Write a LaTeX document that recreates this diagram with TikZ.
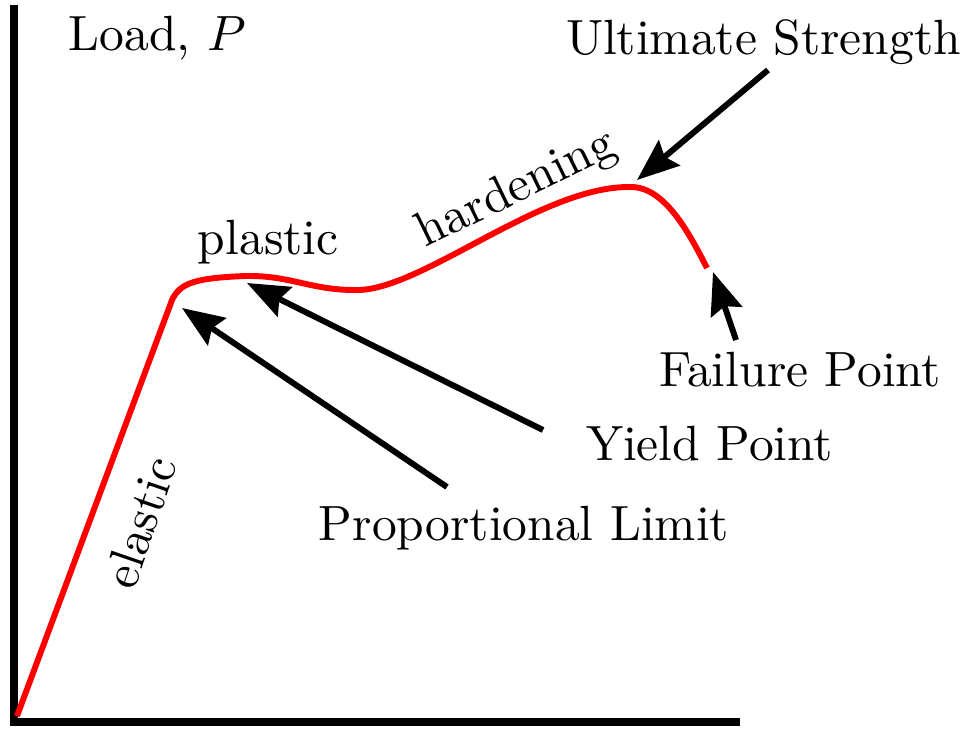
\documentclass[tikz,border=0pt]{standalone}
\usetikzlibrary{arrows.meta}
\begin{document}
\begin{tikzpicture}[x=0.202pt,y=-0.202pt,
  axis/.style={line width=1.8pt,line cap=rect},
  curve/.style={red,line width=1.2pt},
  pointer/.style={line width=1.2pt,-{Stealth[length=8.5pt,width=6.6pt,inset=1.2pt]}},
  lbl/.style={inner sep=0pt,font=\fontsize{10}{12}\selectfont},
  every node/.style={lbl}]
\useasboundingbox (0,0) rectangle (968,731);
% axes
\coordinate (ytop) at (14,9);
\coordinate (orig) at (14,722);
\coordinate (xend) at (736,722);
\draw[axis] (ytop) -- (orig) -- (xend);
% curve
\coordinate (c0) at (17,716);
\coordinate (c1) at (172,300);
\coordinate (c2) at (245,276);
\coordinate (c3) at (355,290);
\coordinate (c4) at (630,187);
\coordinate (c5) at (707,268);
\draw[curve] (c0) -- (c1)
  .. controls (180,283) and (195,278) .. (c2)
  .. controls (290,275) and (310,290) .. (c3)
  .. controls (420,292) and (540,186) .. (c4)
  .. controls (665,186) and (690,235) .. (c5);
% labels
\node[anchor=base west] (load) at (68,50) {Load, $P$};
\node[anchor=base west] (ult) at (565,54) {Ultimate Strength};
\node[anchor=base west] (plastic) at (197,254) {plastic};
\node[anchor=base west] (fail) at (658,386) {Failure Point};
\node[anchor=base west] (yield) at (585,460) {Yield Point};
\node[anchor=base west] (prop) at (318,540) {Proportional Limit};
\node[rotate=26] (hard) at (517,190) {hardening};
\node[rotate=71] (elastic) at (140,522) {elastic};
% arrows
\coordinate (pTail) at (447,487);
\coordinate (pTip) at (182,308);
\coordinate (yTail) at (543,430);
\coordinate (yTip) at (247,283);
\coordinate (uTail) at (768,70);
\coordinate (uTip) at (637,180);
\coordinate (fTail) at (736,340);
\coordinate (fTip) at (713,272);
\draw[pointer] (pTail) -- (pTip);
\draw[pointer] (yTail) -- (yTip);
\draw[pointer] (uTail) -- (uTip);
\draw[pointer] (fTail) -- (fTip);
\end{tikzpicture}
\end{document}
